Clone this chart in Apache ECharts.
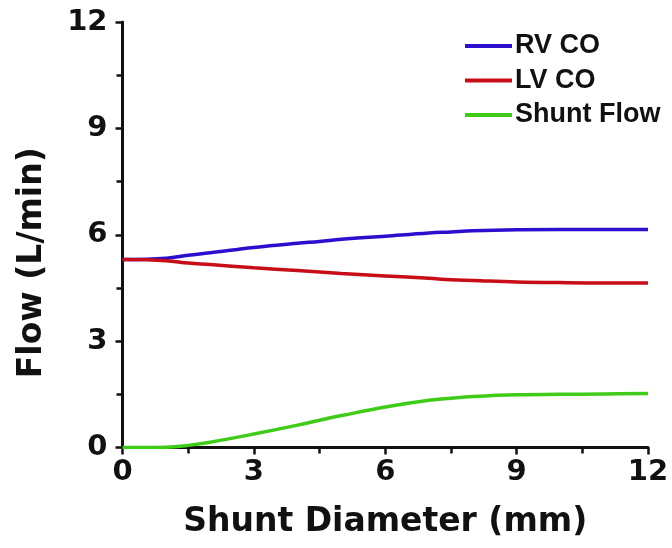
<!DOCTYPE html>
<html>
<head>
<meta charset="utf-8">
<script src="https://cdn.jsdelivr.net/npm/echarts@6/dist/echarts.min.js"></script>
<style>
  html, body { margin: 0; padding: 0; background: #fff; }
  #chart { width: 672px; height: 548px; }
</style>
</head>
<body>
<div id="chart"></div>
<script>
// Shunt diameter (mm) sampled along the x axis
const shuntDiameter = [0, 1, 1.5, 2, 3, 4, 4.5, 5, 6, 7, 7.5, 8, 9, 10, 11, 12];
// Flows (L/min) at each diameter
const rvCO      = [5.30, 5.34, 5.42, 5.49, 5.64, 5.76, 5.81, 5.87, 5.96, 6.05, 6.08, 6.11, 6.14, 6.15, 6.15, 6.15];
const lvCO      = [5.30, 5.27, 5.20, 5.16, 5.07, 4.99, 4.95, 4.91, 4.84, 4.77, 4.73, 4.71, 4.67, 4.65, 4.64, 4.64];
const shuntFlow = [0.00, 0.01, 0.06, 0.15, 0.38, 0.63, 0.77, 0.90, 1.14, 1.33, 1.39, 1.44, 1.49, 1.50, 1.51, 1.52];
const seriesNames = ['RV CO', 'LV CO', 'Shunt Flow'];
const xTicks = [0, 3, 6, 9, 12];
const yTicks = [0, 3, 6, 9, 12];

const pair = (ys) => shuntDiameter.map((x, i) => [x, ys[i]]);
const font = 'DejaVu Sans';

const axisCommon = {
  type: 'value',
  axisLine: { show: true, lineStyle: { color: '#111', width: 3 } },
  axisTick: { show: true, inside: false, length: 7, lineStyle: { color: '#111', width: 2.5 } },
  minorTick: { show: true, splitNumber: 2, length: 6, lineStyle: { color: '#111', width: 2.5 } },
  splitLine: { show: false },
  nameTextStyle: { fontFamily: font, fontWeight: 'bold', fontSize: 33, color: '#111' }
};

const chart = echarts.init(document.getElementById('chart'), null, { renderer: 'canvas' });
chart.setOption({
  animation: false,
  backgroundColor: '#fff',
  grid: { left: 122.5, right: 24, top: 22, bottom: 100.5, containLabel: false },
  legend: {
    data: seriesNames,
    orient: 'vertical',
    left: 460,
    top: 27,
    icon: 'rect',
    itemWidth: 47,
    itemHeight: 4,
    itemGap: 6.5,
    textStyle: { fontFamily: 'Liberation Sans', fontWeight: 'bold', fontSize: 27, color: '#111', lineHeight: 28, padding: [0, 0, 0, -2] }
  },
  xAxis: Object.assign({}, axisCommon, {
    min: xTicks[0], max: xTicks[xTicks.length - 1], interval: xTicks[1] - xTicks[0],
    name: 'Shunt Diameter (mm)', nameLocation: 'middle', nameGap: 58,
    axisLabel: { margin: 10, fontFamily: font, fontWeight: 'bold', fontSize: 29, color: '#111' }
  }),
  yAxis: Object.assign({}, axisCommon, {
    min: yTicks[0], max: yTicks[yTicks.length - 1], interval: yTicks[1] - yTicks[0],
    name: 'Flow (L/min)', nameLocation: 'middle', nameGap: 74, nameRotate: 90,
    nameTextStyle: Object.assign({}, axisCommon.nameTextStyle, { padding: [0, 56, 0, 0] }),
    axisLabel: { margin: 15, fontFamily: font, fontWeight: 'bold', fontSize: 29, color: '#111' }
  }),
  series: [
    { name: seriesNames[0], type: 'line', data: pair(rvCO), smooth: 0.4, showSymbol: false, color: '#2a0fcf', lineStyle: { width: 3.5 } },
    { name: seriesNames[1], type: 'line', data: pair(lvCO), smooth: 0.4, showSymbol: false, color: '#c80d18', lineStyle: { width: 3.5 } },
    { name: seriesNames[2], type: 'line', data: pair(shuntFlow), smooth: 0.4, showSymbol: false, color: '#3fcc18', lineStyle: { width: 3.5 } }
  ]
});
</script>
</body>
</html>
